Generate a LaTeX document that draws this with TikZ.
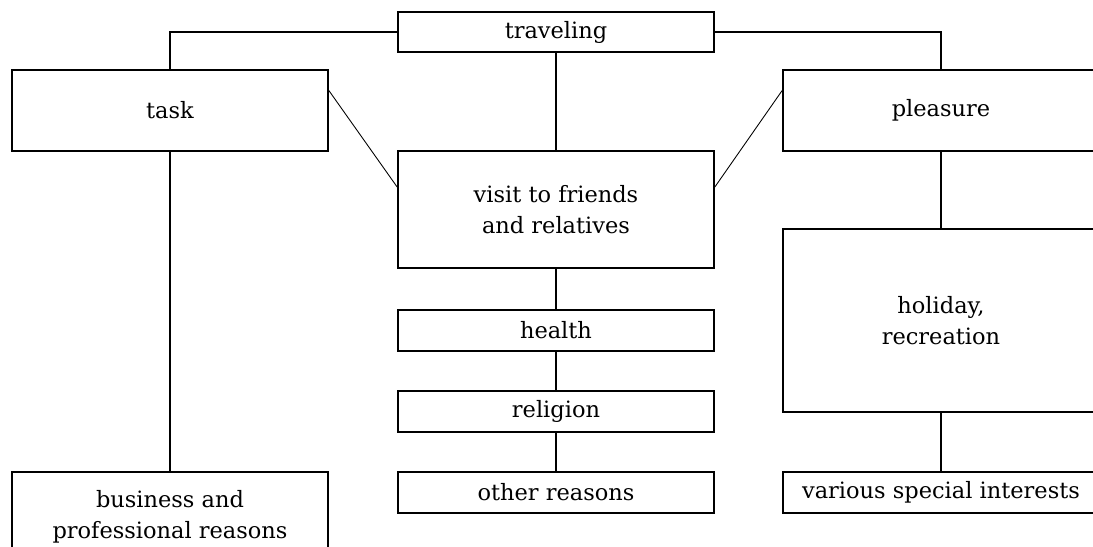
\documentclass[tikz,border=0pt]{standalone}
\usepackage{fontspec}
\setmainfont{DejaVu Serif}
\usetikzlibrary{shapes,calc}

\begin{document}
\begin{tikzpicture}
[x=0.02cm,y=-0.02cm,-,line width=1pt,
every node/.style={shape=rectangle,draw,line width=1pt,inner sep=0pt,
	align=center,font=\fontsize{12.8}{17.5}\selectfont},
wide/.style={minimum width=6.32cm},
low/.style={minimum height=0.81cm},
thin/.style={line width=0.5pt}]
\useasboundingbox (0,0) rectangle (1093,547);
\clip (0,0) rectangle (1093,547);

\node[wide,minimum height=0.8cm] (travel) at (556,32) {traveling};
\node[wide,minimum height=1.62cm] (task) at (170,110.5) {task};
\node[wide,minimum height=1.62cm] (pleasure) at (941,110.5) {pleasure};
\node[wide,minimum height=2.34cm] (visit) at (556,209.5) {visit to friends\\and relatives};
\node[wide,low] (health) at (556,330.5) {health};
\node[wide,low] (religion) at (556,411.5) {religion};
\node[wide,low] (other) at (556,492.5) {other reasons};
\node[wide,minimum height=3.66cm] (holiday) at (941,320.5) {holiday,\\recreation};
\node[wide,low] (various) at (941,492.5) {various special interests};
\node[wide,minimum height=1.8cm] (business) at (170,517) {business and\\professional reasons};

\draw (travel.west) -| (task.north);
\draw (travel.east) -| (pleasure.north);
\path
\foreach \startNode/\endNode in {travel/visit,visit/health,health/religion,
	religion/other,task/business,pleasure/holiday,holiday/various}
{
	(\startNode.south) edge[line width=1pt] (\endNode.north)
};
\draw[thin] ([yshift=0.4cm]task.east) -- ([yshift=0.45cm]visit.west);
\draw[thin] ([yshift=0.45cm]visit.east) -- ([yshift=0.4cm]pleasure.west);
\end{tikzpicture}
\end{document}
